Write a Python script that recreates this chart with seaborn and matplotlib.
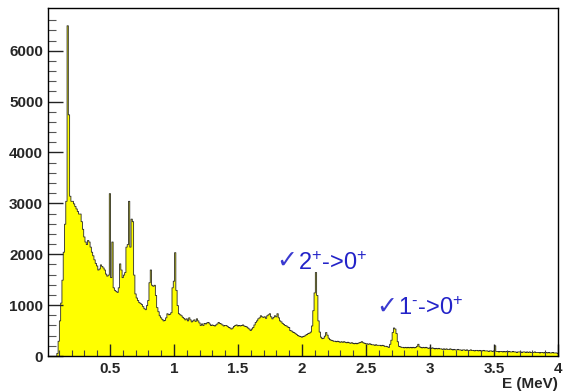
import numpy as np
import pandas as pd
import matplotlib
matplotlib.use("Agg")
import matplotlib.pyplot as plt
import seaborn as sns

# counts per 0.01 MeV bin (one row = 0.1 MeV)
counts_0_1 = [
    0, 0, 0, 0, 0, 0, 0, 0, 60, 300,
    700, 1050, 1500, 2050, 2600, 3050, 6500, 4750, 3150, 3050,
    3050, 3000, 2950, 2900, 2850, 2800, 2800, 2650, 2500, 2350,
    2250, 2200, 2280, 2250, 2150, 2050, 1980, 1900, 1830, 1780,
    1700, 1720, 1800, 1770, 1740, 1700, 1620, 1580, 1600, 3200,
    1550, 2250, 1350, 1300, 1280, 1260, 1350, 1820, 1700, 1550,
    1600, 1650, 2150, 2200, 3050, 2150, 2700, 2650, 1600, 1230,
    1150, 1100, 1060, 1040, 1020, 980, 940, 920, 1000, 1100,
    1450, 1700, 1400, 1380, 1400, 1200, 960, 880, 800, 760,
    730, 700, 710, 760, 840, 820, 830, 860, 1350, 1480,
]
counts_1_2 = [
    2040, 1300, 1000, 840, 820, 800, 770, 750, 720, 740,
    700, 760, 720, 680, 700, 720, 690, 740, 700, 660,
    610, 640, 610, 650, 640, 660, 670, 640, 610, 620,
    610, 600, 620, 640, 670, 650, 640, 620, 600, 610,
    610, 590, 570, 560, 540, 560, 590, 610, 620, 600,
    610, 600, 610, 620, 600, 590, 580, 560, 540, 510,
    540, 570, 620, 670, 700, 740, 760, 800, 780, 770,
    780, 750, 800, 820, 840, 780, 740, 770, 800, 780,
    840, 760, 700, 680, 650, 630, 610, 600, 580, 570,
    510, 500, 480, 470, 450, 430, 410, 400, 390, 380,
]
counts_2_3 = [
    390, 400, 420, 430, 450, 460, 480, 600, 900, 1250,
    1650, 1200, 700, 480, 380, 350, 360, 400, 470, 420,
    360, 330, 320, 310, 300, 300, 290, 300, 290, 280,
    290, 280, 290, 280, 270, 280, 270, 260, 270, 260,
    250, 260, 250, 260, 270, 280, 290, 270, 260, 250,
    250, 240, 250, 240, 230, 230, 220, 230, 220, 220,
    220, 210, 220, 210, 200, 200, 190, 180, 240, 320,
    470, 560, 540, 450, 290, 200, 190, 180, 180, 170,
    180, 170, 180, 170, 180, 170, 180, 170, 180, 200,
    240, 190, 180, 170, 180, 170, 180, 170, 160, 170,
]
counts_3_4 = [
    160, 170, 160, 150, 160, 150, 160, 150, 150, 140,
    150, 140, 150, 140, 140, 150, 140, 130, 140, 130,
    130, 140, 130, 130, 120, 130, 130, 120, 130, 120,
    120, 130, 120, 120, 110, 120, 120, 110, 120, 110,
    110, 120, 110, 110, 110, 100, 110, 110, 100, 110,
    210, 100, 100, 90, 100, 100, 90, 100, 90, 100,
    90, 100, 90, 90, 100, 90, 90, 80, 90, 90,
    90, 80, 90, 90, 80, 90, 80, 90, 80, 80,
    80, 90, 80, 80, 80, 70, 80, 80, 70, 80,
    80, 70, 80, 70, 70, 80, 70, 70, 70, 60,
]
bin_width = 0.01
x_ticks = [0.5, 1, 1.5, 2, 2.5, 3, 3.5, 4]
x_tick_labels = ["0.5", "1", "1.5", "2", "2.5", "3", "3.5", "4"]
y_ticks = [0, 1000, 2000, 3000, 4000, 5000, 6000]
peak_labels = [
    {"x": 1.97, "y": 1690, "text": "2$^{+}$->0$^{+}$"},
    {"x": 2.75, "y": 800, "text": "1$^{\u2010}$->0$^{+}$"},
]

counts = counts_0_1 + counts_1_2 + counts_2_3 + counts_3_4
centers = (np.arange(len(counts)) + 0.5) * bin_width
spec = pd.DataFrame({"E": centers, "n": counts})

sns.set_style("white")
plt.rcParams["font.family"] = ["Liberation Sans", "DejaVu Sans"]
plt.rcParams["mathtext.default"] = "regular"

fig = plt.figure(figsize=(5.63, 3.92), dpi=100)
ax = fig.add_axes([48 / 563, 1 - 356 / 392, 510 / 563, 348 / 392])

sns.histplot(data=spec, x="E", weights="n", binwidth=bin_width,
             binrange=(0, len(counts) * bin_width), element="step",
             fill=True, color="#ffff00", alpha=1, edgecolor="#2a2a2a",
             linewidth=0.6, ax=ax)

ax.set_xlim(0.015, 4.0)
ax.set_ylim(0, 6840)
ax.set_xticks(x_ticks)
ax.set_xticklabels(x_tick_labels)
ax.set_yticks(y_ticks)
ax.set_xticks(np.arange(1, 40) * 0.1, minor=True)
ax.set_yticks(np.arange(0, 34) * 200, minor=True)
ax.set_axisbelow(False)

# ROOT-like inward ticks on bottom and left only
ax.tick_params(axis="x", which="major", direction="in", length=9, width=1,
               pad=4, labelsize=11, bottom=True, top=False, color="#222222")
ax.tick_params(axis="x", which="minor", direction="in", length=4.5, width=0.8,
               bottom=True, top=False, color="#444444")
ax.tick_params(axis="y", which="major", direction="in", length=11, width=1,
               pad=3.5, labelsize=11, left=True, right=False, color="#222222")
ax.tick_params(axis="y", which="minor", direction="in", length=5.5, width=0.8,
               left=True, right=False, color="#555555")
for lab in ax.get_xticklabels() + ax.get_yticklabels():
    lab.set_fontweight("bold")

for sp in ax.spines.values():
    sp.set_color("black")
    sp.set_linewidth(1)
    sp.set_zorder(3)

ax.set_ylabel("")
ax.set_xlabel("E (MeV)", fontsize=11, fontweight="bold", loc="right",
              labelpad=1)

for p in peak_labels:
    ax.text(p["x"], p["y"], p["text"], color="#2323c8", fontsize=17,
            ha="left", va="baseline")
    ax.text(p["x"] - 0.005, p["y"] + 40, "\u2713", color="#3a3ad0",
            fontsize=18, ha="right", va="baseline",
            family=["DejaVu Sans"])

fig.savefig("out.png", dpi=100)
